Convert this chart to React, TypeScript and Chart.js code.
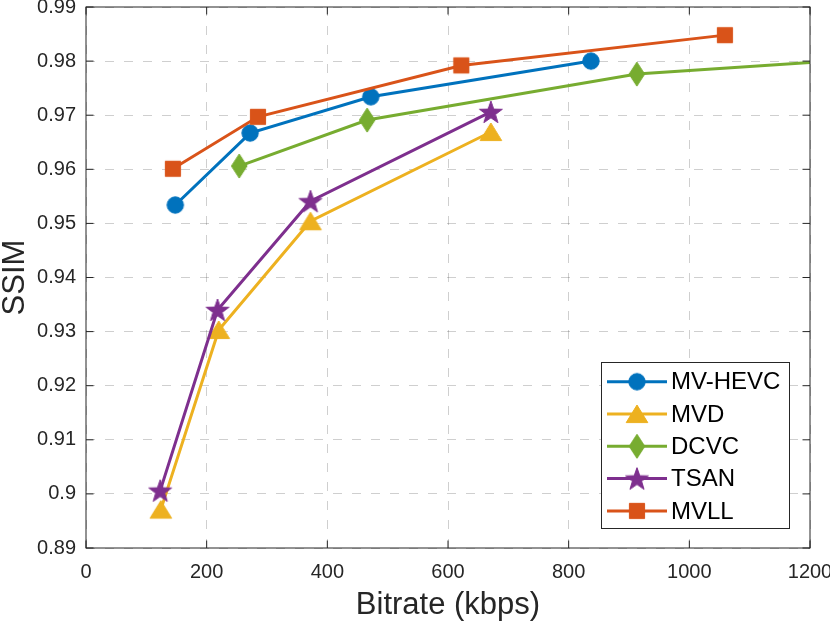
import React, { useEffect, useRef } from 'react';
import { Chart, registerables } from 'chart.js';

Chart.register(...registerables);

// ---- data ----
const seriesNames = ['MV-HEVC', 'MVD', 'DCVC', 'TSAN', 'MVLL'];
const seriesColors = ['#0072BD', '#EDB120', '#77AC30', '#7E2F8E', '#D95319'];
const seriesMarkers = ['circle', 'triangle', 'diamond', 'star', 'square'];

const mvhevcX = [148, 272, 472, 837];
const mvhevcY = [0.9534, 0.9667, 0.9734, 0.98];

const mvdX = [124, 220, 372, 671];
const mvdY = [0.8971, 0.9303, 0.9504, 0.9669];

const dcvcX = [254, 466, 913, 1480];
const dcvcY = [0.9606, 0.9691, 0.9776, 0.9818];

const tsanX = [123, 218, 372, 671];
const tsanY = [0.9006, 0.934, 0.9541, 0.9706];

const mvllX = [144, 285, 622, 1059];
const mvllY = [0.9601, 0.9697, 0.9792, 0.9848];

const xTicks = [0, 200, 400, 600, 800, 1000, 1200];
const yTicks = [0.89, 0.9, 0.91, 0.92, 0.93, 0.94, 0.95, 0.96, 0.97, 0.98, 0.99];

const xTitle = 'Bitrate (kbps)';
const yTitle = 'SSIM';

const FONT = "'Liberation Sans', Arial, Helvetica, sans-serif";
const AXIS_COLOR = '#262626';
const GRID_COLOR = 'rgba(38,38,38,0.22)';

function makeMarker(kind: string, color: string): HTMLCanvasElement {
  const c = document.createElement('canvas');
  const S = 30;
  c.width = S;
  c.height = S;
  const ctx = c.getContext('2d') as CanvasRenderingContext2D;
  const cx = S / 2;
  const cy = S / 2;
  ctx.fillStyle = color;
  ctx.strokeStyle = color;
  ctx.lineWidth = 1;
  ctx.beginPath();
  if (kind === 'circle') {
    ctx.arc(cx, cy, 8.2, 0, Math.PI * 2);
  } else if (kind === 'square') {
    ctx.rect(cx - 7.6, cy - 7.6, 15.2, 15.2);
  } else if (kind === 'triangle') {
    ctx.moveTo(cx, cy - 9);
    ctx.lineTo(cx + 10.8, cy + 8.6);
    ctx.lineTo(cx - 10.8, cy + 8.6);
    ctx.closePath();
  } else if (kind === 'diamond') {
    ctx.moveTo(cx, cy - 12);
    ctx.lineTo(cx + 7.8, cy);
    ctx.lineTo(cx, cy + 12);
    ctx.lineTo(cx - 7.8, cy);
    ctx.closePath();
  } else if (kind === 'star') {
    const R = 12;
    const r = R * 0.4;
    for (let i = 0; i < 10; i++) {
      const rad = i % 2 === 0 ? R : r;
      const a = -Math.PI / 2 + (i * Math.PI) / 5;
      const px = cx + rad * Math.cos(a);
      const py = cy + 1 + rad * Math.sin(a);
      if (i === 0) ctx.moveTo(px, py);
      else ctx.lineTo(px, py);
    }
    ctx.closePath();
  }
  ctx.fill();
  ctx.stroke();
  return c;
}

const framePlugin = {
  id: 'matlabFrame',
  afterDatasetsDraw(chart: any) {
    const { ctx, chartArea } = chart;
    const { left, right, top, bottom } = chartArea;
    const xs = chart.scales.x;
    const ys = chart.scales.y;
    const tl = 7.5;
    ctx.save();
    ctx.strokeStyle = AXIS_COLOR;
    ctx.lineWidth = 1;
    ctx.beginPath();
    xTicks.forEach((v) => {
      const px = xs.getPixelForValue(v);
      ctx.moveTo(px, bottom);
      ctx.lineTo(px, bottom - tl);
      ctx.moveTo(px, top);
      ctx.lineTo(px, top + tl);
    });
    yTicks.forEach((v) => {
      const py = ys.getPixelForValue(v);
      ctx.moveTo(left, py);
      ctx.lineTo(left + tl, py);
      ctx.moveTo(right, py);
      ctx.lineTo(right - tl, py);
    });
    ctx.stroke();
    ctx.strokeRect(left, top, right - left, bottom - top);
    ctx.restore();
  },
  afterDraw(chart: any) {
    const { ctx } = chart;
    const bx = 601;
    const by = 362;
    const bw = 188;
    const bh = 166;
    ctx.save();
    ctx.fillStyle = '#ffffff';
    ctx.fillRect(bx, by, bw, bh);
    ctx.strokeStyle = AXIS_COLOR;
    ctx.lineWidth = 1;
    ctx.strokeRect(bx + 0.5, by + 0.5, bw, bh);
    const rowH = 32.3;
    chart.data.datasets.forEach((ds: any, i: number) => {
      const cy = by + 19.7 + i * rowH;
      ctx.strokeStyle = ds.borderColor;
      ctx.lineWidth = 3;
      ctx.beginPath();
      ctx.moveTo(bx + 6, cy);
      ctx.lineTo(bx + 66, cy);
      ctx.stroke();
      const m = ds.pointStyle as HTMLCanvasElement;
      ctx.drawImage(m, bx + 36 - m.width / 2, cy - m.height / 2);
      ctx.fillStyle = '#000000';
      ctx.font = `24px ${FONT}`;
      ctx.textAlign = 'left';
      ctx.textBaseline = 'middle';
      ctx.fillText(ds.label, bx + 70, cy + 1);
    });
    ctx.restore();
  },
};

export default function App() {
  const canvasRef = useRef<HTMLCanvasElement | null>(null);

  useEffect(() => {
    if (!canvasRef.current) return;
    const xsArr = [mvhevcX, mvdX, dcvcX, tsanX, mvllX];
    const ysArr = [mvhevcY, mvdY, dcvcY, tsanY, mvllY];
    const datasets = seriesNames.map((name, i) => ({
      label: name,
      data: xsArr[i].map((x, j) => ({ x, y: ysArr[i][j] })),
      borderColor: seriesColors[i],
      backgroundColor: seriesColors[i],
      borderWidth: 3,
      tension: 0,
      pointStyle: makeMarker(seriesMarkers[i], seriesColors[i]),
      pointRadius: 9,
      pointHoverRadius: 9,
      order: seriesNames.length - i,
    }));

    const chart = new Chart(canvasRef.current, {
      type: 'line',
      data: { datasets },
      options: {
        animation: false,
        responsive: false,
        events: [],
        layout: { autoPadding: false, padding: { left: 0, right: 20, top: 7, bottom: 0 } },
        plugins: {
          legend: { display: false },
          tooltip: { enabled: false },
        },
        scales: {
          x: {
            type: 'linear',
            min: 0,
            max: 1200,
            afterBuildTicks: (scale: any) => {
              scale.ticks = xTicks.map((v) => ({ value: v }));
            },
            afterFit: (scale: any) => {
              scale.height = 78;
              scale.paddingLeft = 0;
              scale.paddingRight = 0;
            },
            ticks: {
              autoSkip: false,
              maxRotation: 0,
              padding: 12,
              color: AXIS_COLOR,
              font: { family: FONT, size: 20 },
              callback: (v: any) => String(v),
            },
            grid: {
              color: GRID_COLOR,
              lineWidth: 1,
              drawTicks: false,
            },
            border: { display: false, dash: [9, 10] },
            title: {
              display: true,
              text: xTitle,
              color: AXIS_COLOR,
              font: { family: FONT, size: 31, lineHeight: 1 },
              padding: { top: 0, bottom: 5 },
            },
          },
          y: {
            type: 'linear',
            min: 0.89,
            max: 0.99,
            afterBuildTicks: (scale: any) => {
              scale.ticks = yTicks.map((v) => ({ value: v }));
            },
            afterFit: (scale: any) => {
              scale.width = 86;
              scale.paddingTop = 0;
              scale.paddingBottom = 0;
            },
            ticks: {
              autoSkip: false,
              padding: 10,
              color: AXIS_COLOR,
              font: { family: FONT, size: 20, lineHeight: 0.6 },
              callback: (v: any) => String(Math.round(Number(v) * 100) / 100),
            },
            grid: {
              color: GRID_COLOR,
              lineWidth: 1,
              drawTicks: false,
            },
            border: { display: false, dash: [9, 10] },
            title: {
              display: true,
              text: yTitle,
              color: AXIS_COLOR,
              font: { family: FONT, size: 31, lineHeight: 1 },
              padding: { top: 0, bottom: 0 },
            },
          },
        },
      },
      plugins: [framePlugin],
    } as any);

    return () => {
      chart.destroy();
    };
  }, []);

  return (
    <div
      style={{
        position: 'fixed',
        left: 0,
        top: 0,
        width: 830,
        height: 626,
        background: '#ffffff',
      }}
    >
      <canvas ref={canvasRef} width={830} height={626} style={{ width: 830, height: 626, display: 'block' }} />
    </div>
  );
}
